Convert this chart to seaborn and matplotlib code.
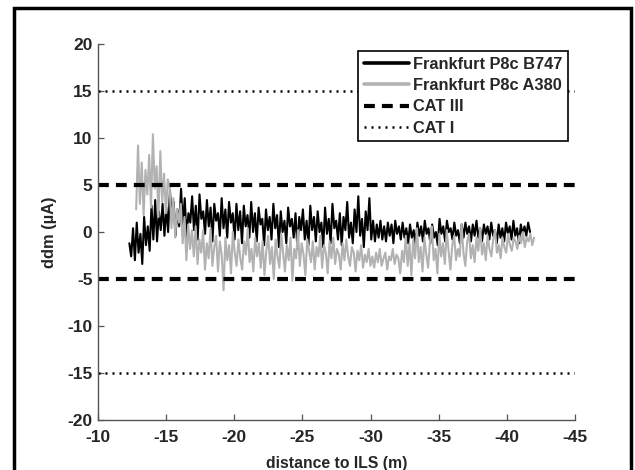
import numpy as np
import pandas as pd
import matplotlib
matplotlib.use("Agg")
import matplotlib.pyplot as plt
from matplotlib.patches import Rectangle
from matplotlib.lines import Line2D
import seaborn as sns

# Localizer deviation recorded along the taxiway, Frankfurt position P8c
b747_start, b747_end = -12.3, -41.7
b747_ddm = [
    -1.2, -2.6, 0.4, -3.0, 1.0, -2.2, -0.2, -3.4, 1.6, -1.4, 0.6, -2.0, 2.8, -0.8, 3.4, -1.0, 2.2, 0.2, 3.0, -0.4,
    2.6, 0.0, 4.4, 1.2, 3.2, -0.4, 2.4, 0.6, 4.6, 0.8, 3.6, -0.6, 2.0, 1.0, 3.8, 0.2, 2.8, -0.8, 4.0, 1.4,
    2.2, -0.2, 3.4, 0.6, 2.6, -1.0, 3.0, 1.2, 2.0, -0.4, 3.6, 0.4, 2.4, -0.6, 3.2, 1.0, 2.0,
    -0.8, 3.0, 0.2, 2.2, -1.2, 2.8, 0.6, 1.8, -0.6, 3.2, 0.0, 2.0, -1.0, 2.6, 0.8, 1.4, -1.4, 2.4, 0.2, 1.6,
    -0.8, 3.0, 0.4, 1.8, -1.6, 2.2, 0.0, 1.2, -1.2, 2.6, 0.6, 1.4, -0.6, 2.0, -1.8, 1.6, 0.2,
    2.4, -0.8, 1.2, -1.4, 2.8, 0.2, 1.6, -1.0, 2.2, 0.0, 1.0, -1.6, 2.6, -0.2, 1.4, -1.2, 3.0, 0.4, 1.2, -0.8,
    2.0, -1.4, 1.6, 0.2, 3.2, -0.6, 1.0, -1.2, 2.4, 0.0, 3.8, -0.4, 1.4, -1.6, 2.2, 0.2, 3.6, -0.8, 1.2, -1.0, 0.8,
    -0.6, 1.2, -0.8, 0.6, -1.0, 1.0, -0.4, 0.8, -1.2, 1.2, -0.2, 0.6, -0.8, 1.0, -0.6,
    0.4, -1.2, 0.8, -0.6, 0.2, -1.4, 1.0, -0.4, 0.6, -1.0, 1.2, -0.2, 0.4, -1.2, 0.8, -0.6, 0.0, -1.4, 1.4, -0.2,
    0.6, -1.0, 1.2, 0.0, 0.4, -0.8, 1.0, -0.4, 0.2, -1.2, 0.8, -0.6, 1.0, -0.2, 0.6, -1.0, 0.8, -0.4, 1.2, -0.6,
    0.4, -1.0, 0.8, -0.2, 0.6, -0.8, 1.0, -0.4, 0.2, -1.2, 0.8, -0.6, 0.4, -1.0, 1.0, -0.2, 0.6, -0.8, 1.2, -0.4,
    0.4, -1.2, 0.8, -0.2, 0.6, -0.4, 1.0, 0.0,
]

a380_start, a380_end = -12.8, -42.0
a380_ddm = [
    2.4, 9.2, 3.0, 7.4, 1.8, 6.6, 4.0, 8.2, 2.6, 10.4, 4.6, 7.0, 1.6, 8.6, 3.2, 6.2, 2.0, 5.6,
    4.8, 0.4, 3.6, -0.6, 2.4, 1.0, 3.0, -1.2, 1.6, -3.0, 0.8, -1.8, 0.2,
    -2.6, 0.6, -3.4, -0.8, -2.2, 0.2, -4.0, -1.2, -2.8, 0.4, -3.6, -1.6, -0.4, -4.2, -1.0, -2.4, -6.2, -0.6,
    -3.0, -1.4, -4.4, 0.0, -2.2, -3.6, -0.8, -2.8, -4.0, -1.0, -2.4, 0.4, -3.2, -1.8, -4.2, -0.6, -2.6, -1.2, -3.8,
    -1.0, -4.6, -2.0, -0.4, -3.4, -1.6, -5.0, -0.8, -2.6, -3.8, -0.2, -2.2, -4.2, -1.4, -3.0, -0.6, -5.2, -1.8,
    -2.8, 0.2, -3.6, -1.2, -2.4, -4.6, -0.8, -2.0, -3.2, -1.0, -4.0, -1.6, -2.6, -0.4, -3.8, -1.4, -2.2, -4.4,
    -1.0, -2.8, -0.6, -3.4, -1.8, -2.4, -4.0, -1.2, -3.0, -0.8, -2.6, -3.6, -1.6, -2.2, -4.2, -2.0, -3.0, -1.4,
    -3.8, -2.4, -3.2, -1.8, -3.6,
    -2.6, -3.8, -2.2, -3.2, -1.8, -3.6, -2.8, -2.2, -4.0, -2.6, -3.0, -1.8, -3.4, -2.4, -2.8, -4.4, -2.0, -3.2,
    -0.4, -3.6, -1.2, -4.6, -0.8, -2.8, 0.4, -3.2, -1.6, -4.2, -0.6, -2.4, -3.8, -1.0, 0.6, -3.0, -1.8, -4.4,
    -0.2, -2.6, -1.2, -3.4, 0.2, -2.0, -4.0, -1.4, -0.4, -3.0, -1.8, -2.6, 0.8, -2.2, -3.6, -1.0, -0.2, -2.8,
    -1.4, -3.2, -0.6, -2.0, 0.4, -2.4, -1.2, -3.0, -0.4, -1.8, -2.6, -0.8, 0.2, -2.2, -1.4, -2.8, -0.6, -1.6,
    -2.2, -0.2, -1.4, -2.0, -0.6, -1.0, -1.8, -0.4, -1.2, 0.0, -1.6, -0.6, -1.0, -0.2, -1.4, -0.6,
]

# Tolerance limits
cat3_limit = 5
cat1_limit = 15

x_ticks = [-10, -15, -20, -25, -30, -35, -40, -45]
y_ticks = [-20, -15, -10, -5, 0, 5, 10, 15, 20]

sns.set_style("ticks")
plt.rcParams["font.family"] = ["Liberation Sans", "DejaVu Sans"]
plt.rcParams["font.weight"] = "bold"

b747 = pd.DataFrame({
    "distance": np.linspace(b747_start, b747_end, len(b747_ddm)),
    "ddm": b747_ddm,
})
a380 = pd.DataFrame({
    "distance": np.linspace(a380_start, a380_end, len(a380_ddm)),
    "ddm": a380_ddm,
})

fig = plt.figure(figsize=(6.35, 4.70), dpi=100)
ax = fig.add_axes([98 / 635, 1 - 420 / 470, 477 / 635, 376 / 470])

sns.lineplot(data=b747, x="distance", y="ddm", ax=ax, color="black",
             lw=1.5, sort=False, estimator=None)
sns.lineplot(data=a380, x="distance", y="ddm", ax=ax, color="#b2b2b2",
             lw=1.5, sort=False, estimator=None)

dash = (0, (2.6, 1.7))
dot = (0, (0.8, 2.0))
for v in (cat3_limit, -cat3_limit):
    ax.axhline(v, color="black", lw=3.0, ls=dash)
for v in (cat1_limit, -cat1_limit):
    ax.axhline(v, color="black", lw=1.8, ls=dot)

ax.set_xlim(-10, -45)
ax.set_ylim(-20, 20)
ax.set_xticks(x_ticks)
ax.set_yticks(y_ticks)
ax.set_xticklabels([str(t) for t in x_ticks])
ax.set_yticklabels([str(t) for t in y_ticks])
ax.tick_params(direction="in", length=4, width=0.9, color="#555555",
               labelsize=12.5)
ax.tick_params(axis="x", pad=7)
ax.tick_params(axis="y", pad=4)
for lab in ax.get_xticklabels() + ax.get_yticklabels():
    lab.set_fontweight("bold")
for side in ("top", "right"):
    ax.spines[side].set_visible(False)
for side in ("left", "bottom"):
    ax.spines[side].set_color("#555555")
    ax.spines[side].set_linewidth(1.0)

ax.set_xlabel("distance to ILS (m)", fontsize=11.3, fontweight="bold", labelpad=8)
ax.set_ylabel("ddm (\u00b5A)", fontsize=11.8, fontweight="bold", labelpad=7)

handles = [
    Line2D([], [], color="black", lw=2.6),
    Line2D([], [], color="#b2b2b2", lw=2.6),
    Line2D([], [], color="black", lw=3.0, ls=dash),
    Line2D([], [], color="black", lw=1.8, ls=dot),
]
labels = ["Frankfurt P8c B747", "Frankfurt P8c A380", "CAT III", "CAT I"]
leg = ax.legend(handles, labels, loc="upper right",
                bbox_to_anchor=(0.985, 0.981), frameon=True, fancybox=False,
                framealpha=1, edgecolor="black", fontsize=11.8,
                handlelength=2.75, handletextpad=0.25, labelspacing=0.38,
                borderpad=0.35, borderaxespad=0.0)
leg.get_frame().set_linewidth(1.2)
for t in leg.get_texts():
    t.set_fontweight("bold")

# Outer frame around the figure
fig.patches.append(Rectangle((14 / 635, -0.05), 617 / 635, 1.05 - 8 / 470,
                             transform=fig.transFigure, fill=False,
                             edgecolor="black", lw=2.5))

fig.savefig("out.png", dpi=100)
